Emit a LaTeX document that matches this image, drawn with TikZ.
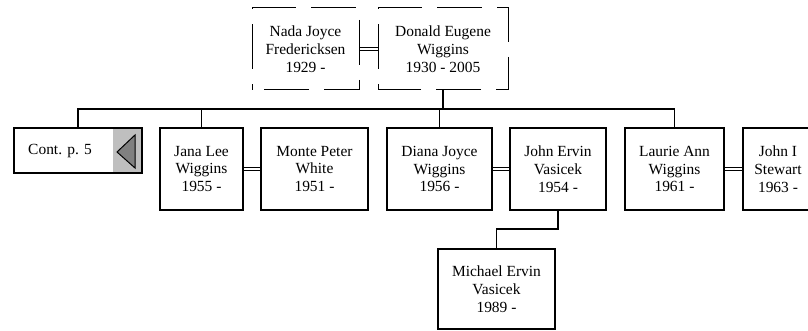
\documentclass[tikz,border=0pt]{standalone}
\usepackage{fontspec}
\setmainfont{Liberation Serif}
\usetikzlibrary{backgrounds}
\newdimen\pix
\pix=0.75pt

\begin{document}
\begin{tikzpicture}[x=0.75pt,y=-0.75pt,
  person/.style={draw,line width=2\pix,fill=white,inner sep=0pt,outer sep=0pt,
    align=center,minimum height=82\pix,font=\fontsize{11.6}{13.3}\selectfont},
  couple/.style={person,draw=none},
  dashbox/.style={line width=1\pix,dash pattern=on 45\pix off 15\pix,dash phase=39\pix},
  link/.style={line width=1.3\pix},
  marry/.style={line width=1\pix,double,double distance=2\pix}]
\clip (0,0) rectangle (808,331);

\node[couple,minimum width=107\pix] (nada) at (305.5,49) {Nada Joyce\\Fredericksen\\1929 -};
\node[couple,minimum width=130\pix] (donald) at (443,49) {Donald Eugene\\Wiggins\\1930 - 2005};
\draw[dashbox] (nada.south west) -- (nada.north west) -- (nada.north east) -- (nada.south east) -- cycle;
\draw[dashbox] (donald.south west) -- (donald.north west) -- (donald.north east) -- (donald.south east) -- cycle;

\node[person,minimum width=128\pix,minimum height=45\pix] (cont) at (78,150.5) {};
\fill[gray!50] ([xshift=-29\pix]cont.north east) rectangle (cont.south east);
\filldraw[fill=gray,line width=1\pix] ([shift={(-25,1.5)}]cont.east) -- ([shift={(-7,-15.5)}]cont.east)
  -- ([shift={(-7,17.5)}]cont.east) -- cycle;
\draw[line width=2\pix] (cont.north west) rectangle (cont.south east);
\node[font=\fontsize{11.6}{13.3}\selectfont] (contlabel) at ([shift={(-18,1)}]cont.center) {Cont. p. 5};

\node[person,minimum width=83\pix] (jana) at (201.5,169) {Jana Lee\\Wiggins\\1955 -};
\node[person,minimum width=107\pix] (monte) at (314.5,169) {Monte Peter\\White\\1951 -};
\node[person,minimum width=105\pix] (diana) at (439.5,169) {Diana Joyce\\Wiggins\\1956 -};
\node[person,minimum width=96\pix] (john) at (558,169) {John Ervin\\Vasicek\\1954 -};
\node[person,minimum width=99\pix] (laurie) at (674.5,169) {Laurie Ann\\Wiggins\\1961 -};
\node[person,minimum width=70\pix] (stewart) at (778,169) {John I\\Stewart\\1963 -};
\node[person,minimum width=117\pix,minimum height=80\pix] (michael) at (496.5,289) {Michael Ervin\\Vasicek\\1989 -};

\coordinate (bar) at (0,109);
\begin{scope}[on background layer]
\draw[marry] (nada) -- (donald);
\draw[marry] (jana) -- (monte);
\draw[marry] (diana) -- (john);
\draw[marry] (laurie) -- (stewart);
\draw[link] (donald.south) -- (donald.south |- bar);
\draw[link] (cont.north) -- (cont.north |- bar) -- (laurie.north |- bar) -- (laurie.north);
\draw[link] (jana.north) -- (jana.north |- bar);
\draw[link] (diana.north) -- (diana.north |- bar);
\draw[link] (john.south) -- ++(0,19) -| (michael.north);
\end{scope}
\end{tikzpicture}
\end{document}
